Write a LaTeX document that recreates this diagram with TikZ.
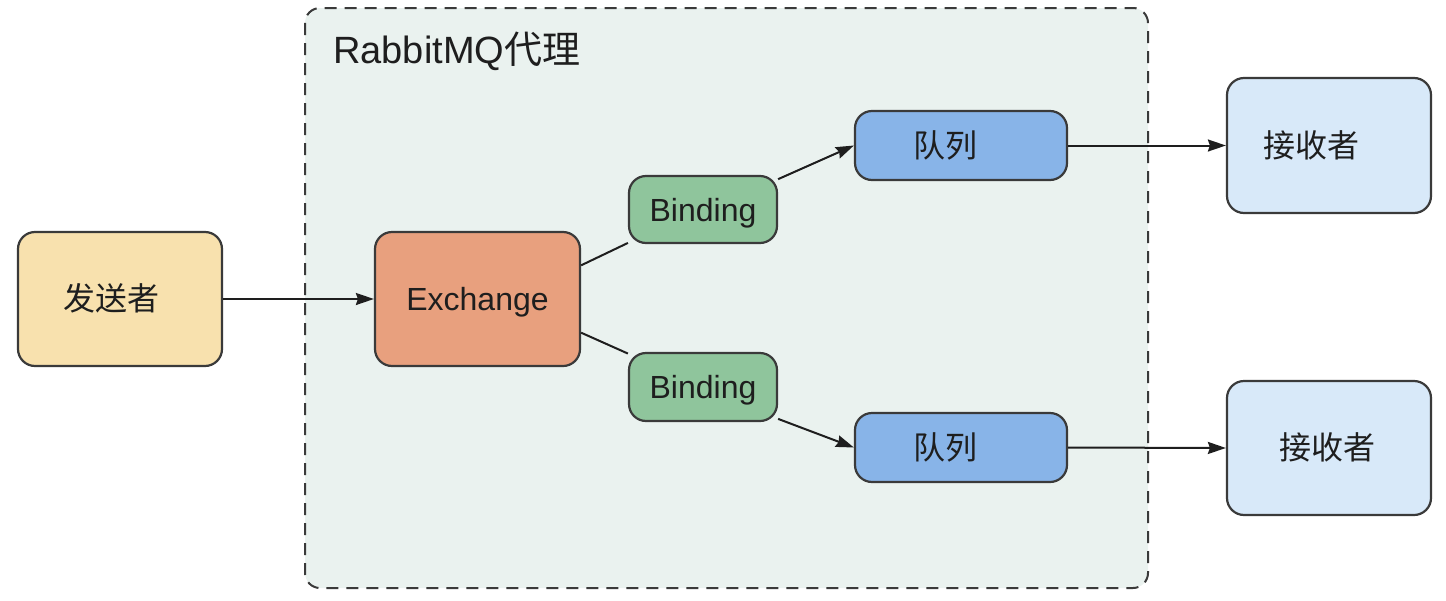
\documentclass[tikz,border=0pt]{standalone}
\usepackage{fontspec}
\setmainfont{Liberation Sans}
\newfontfamily\cjk{Noto Sans CJK SC}
\usetikzlibrary{arrows.meta}
\definecolor{bgc}{HTML}{EAF2EF}
\definecolor{sendc}{HTML}{F8E1AE}
\definecolor{exc}{HTML}{E8A07E}
\definecolor{bindc}{HTML}{8FC59C}
\definecolor{qc}{HTML}{88B4E8}
\definecolor{recc}{HTML}{D8E9F9}
\definecolor{edgec}{HTML}{3A3A3A}
\definecolor{txtc}{HTML}{1E1E1E}
\tikzset{
  box/.style={draw=edgec, line width=2.2pt, rounded corners=17pt, text=txtc,
    font=\fontsize{32}{38}\selectfont, inner sep=0pt, text height=23pt, text depth=0pt},
  link/.style={draw=txtc, line width=2pt},
  arr/.style={link, -{Stealth[length=18pt,width=12pt,inset=2pt]}},
}
\begin{document}
\begin{tikzpicture}[x=1pt,y=-1pt]
\useasboundingbox (0,0) rectangle (1446,600);
% container
\draw[draw=edgec, fill=bgc, line width=2pt, dash pattern=on 12pt off 8pt, rounded corners=15pt]
  (305,8) rectangle (1148,588);
\node[anchor=base west, text=txtc, font=\fontsize{38}{44}\selectfont, inner sep=0pt] (title)
  at (333,63) {RabbitMQ{\cjk 代理}};
% nodes
\node[box, fill=sendc, minimum width=204pt, minimum height=134pt] (s) at (120,299)
  {{\cjk 发送者}\hspace*{18pt}};
\node[box, fill=exc, minimum width=205pt, minimum height=134pt] (ex) at (477.5,299)
  {Exchange};
\node[box, fill=bindc, minimum width=148pt, minimum height=67pt] (b1) at (703,209.5)
  {Binding};
\node[box, fill=bindc, minimum width=148pt, minimum height=68pt] (b2) at (703,387)
  {Binding};
\node[box, fill=qc, minimum width=212pt, minimum height=69pt] (q1) at (961,145.5)
  {{\cjk 队列}\hspace*{32pt}};
\node[box, fill=qc, minimum width=212pt, minimum height=69pt] (q2) at (961,447.5)
  {{\cjk 队列}\hspace*{32pt}};
\node[box, fill=recc, minimum width=204pt, minimum height=135pt] (r1) at (1329,145.5)
  {{\cjk 接收者}\hspace*{36pt}};
\node[box, fill=recc, minimum width=204pt, minimum height=134pt] (r2) at (1329,448)
  {{\cjk 接收者}\hspace*{4pt}};
% connectors
\draw[arr] (s.east) -- (ex.west);
\draw[link] (ex.18) -- (b1.204);
\draw[link] (ex.-18) -- (b2.156);
\draw[arr] (b1.22) -- (q1.west);
\draw[arr] (b2.-23) -- (q2.west);
\draw[arr] (q1.east) -- (r1.west);
\draw[arr] (q2.east) -- (r2.west);
\end{tikzpicture}
\end{document}
